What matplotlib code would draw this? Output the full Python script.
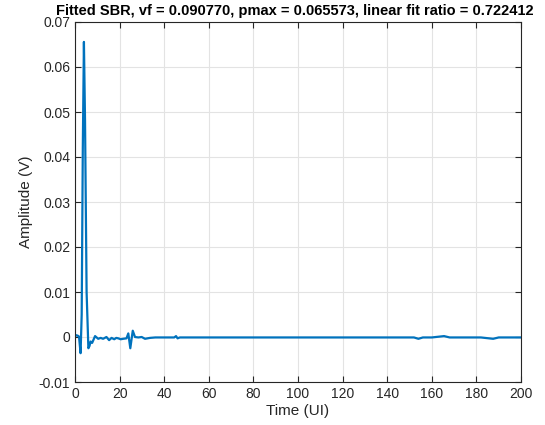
import matplotlib
matplotlib.use("Agg")
import matplotlib.pyplot as plt

time_ui = [0.0, 0.5, 1.2, 1.8, 2.5, 3.0, 3.5, 4.0, 4.5, 5.2, 6.0, 6.5, 7.0, 7.7, 8.3, 9.0,
           10.4, 11.5, 12.6, 14.1, 15.3, 16.4, 17.6, 18.5, 19.4, 20.5, 21.6, 23.1, 23.9,
           24.8, 25.9, 26.9, 28.4, 29.9, 31.4, 33.6, 36.0, 40.0, 44.5, 45.3, 46.0, 47.0,
           55.0, 70.0, 90.0, 110.0, 130.0, 145.0, 152.0, 154.0, 156.0, 160.0, 165.5, 168.0,
           175.0, 182.0, 187.5, 190.0, 195.0, 200.0]
amplitude_v = [0.0001, 0.0004, 0.0003, 0.0001, -0.0036, 0.0050, 0.0420, 0.065573, 0.0480,
               0.0100, -0.0025, -0.0020, -0.0010, -0.0013, -0.0006, 0.0002,
               -0.0004, -0.0002, -0.0004, 0.0000, -0.0007, -0.0002, -0.0005, -0.0002, -0.0003,
               -0.0005, -0.0004, -0.0003, 0.0008,
               -0.0025, 0.0014, 0.0000, -0.0001, 0.0000, -0.0004, -0.0002, -0.0001, -0.0001,
               -0.0001, 0.0002, -0.0003, -0.0001,
               -0.0001, -0.0001, -0.0001, -0.0001, -0.0001, -0.0001, -0.0001, -0.0004, -0.0001,
               -0.0001, 0.0002, -0.0001,
               -0.0001, -0.0001, -0.0004, -0.0001, -0.0001, -0.0001]

x_ticks = list(range(0, 201, 20))
y_ticks = [-0.01, 0, 0.01, 0.02, 0.03, 0.04, 0.05, 0.06, 0.07]
y_tick_labels = ["-0.01", "0", "0.01", "0.02", "0.03", "0.04", "0.05", "0.06", "0.07"]

plt.rcParams['font.family'] = ['Liberation Sans', 'DejaVu Sans']

fig = plt.figure(figsize=(5.45, 4.25), dpi=100)
ax = fig.add_axes([75/545, 1-382/425, (521-75)/545, (382-22)/425])

ax.plot(time_ui, amplitude_v, color='#0072BD', linewidth=1.6)

ax.set_xlim(0, 200)
ax.set_ylim(-0.01, 0.07)
ax.set_xticks(x_ticks)
ax.set_yticks(y_ticks)
ax.set_yticklabels(y_tick_labels)
ax.grid(True, color='#E3E3E3', linewidth=0.8)
ax.set_axisbelow(True)
ax.tick_params(direction='in', top=True, right=True, labelsize=10, colors='#262626',
               length=4, width=0.8)
for s in ax.spines.values():
    s.set_color('#262626')
    s.set_linewidth(0.8)

ax.set_xlabel('Time (UI)', fontsize=11, color='#262626', labelpad=2)
ax.set_ylabel('Amplitude (V)', fontsize=11, color='#262626', labelpad=4)
fig.text(0.5 * (52 + 537) / 545, 1 - 11 / 425,
         'Fitted SBR, vf = 0.090770, pmax = 0.065573, linear fit ratio = 0.722412',
         fontsize=10.5, fontweight='bold', color='black', ha='center', va='center')

fig.savefig('out.png', dpi=100)
